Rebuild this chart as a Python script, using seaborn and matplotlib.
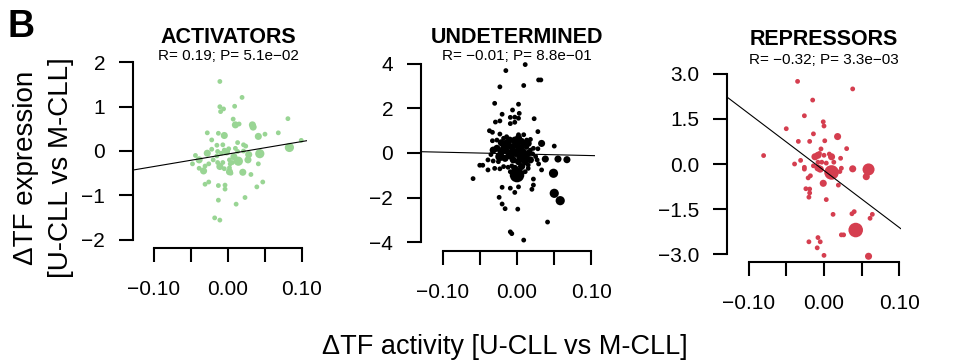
import numpy as np
import pandas as pd
import matplotlib
matplotlib.use('Agg')
import matplotlib.pyplot as plt
import matplotlib.transforms as mtransforms
import seaborn as sns

# values
# weight: 1 small dot ... 5 biggest dot
act_x = [-0.011, 0.019, -0.011, -0.006, -0.010, 0.009, 0.007, 0.015, 0.010, 0.033,
         0.034, 0.081, 0.068, 0.050, 0.041, -0.005, -0.013, -0.028, -0.022, -0.007,
         -0.015, 0.013, 0.021, 0.024, 0.099, 0.083, 0.043, 0.028, 0.027, 0.014,
         0.008, -0.002, -0.005, 0.001, -0.009, -0.014, -0.022, -0.028, -0.015, -0.020,
         -0.014, -0.011, -0.005, 0.002, 0.002, 0.004, 0.020, 0.031, 0.041, -0.039,
         -0.044, -0.048, -0.039, -0.033, -0.031, -0.026, -0.026, -0.031, -0.013, -0.004,
         -0.004, 0.039, 0.047, 0.023, 0.011, -0.013, -0.018, -0.011, 0.013, 0.021,
         0.002, -0.007, 0.003, 0.010, 0.006]
act_y = [1.57, 1.21, 1.00, 0.95, 0.89, 1.01, 0.72, 0.61, 0.59, 0.59,
         0.54, 0.73, 0.41, 0.38, 0.33, 0.35, 0.40, 0.41, 0.25, 0.14,
         0.13, 0.19, 0.14, 0.11, 0.24, 0.08, -0.06, -0.08, -0.20, -0.23,
         -0.13, -0.02, 0.02, 0.05, -0.05, -0.01, 0.04, -0.05, -0.11, -0.20,
         -0.26, -0.35, -0.40, -0.38, -0.47, -0.50, -0.48, -0.53, -0.29, -0.20,
         -0.10, -0.29, -0.39, -0.45, -0.34, -0.29, -0.70, -0.75, -0.78, -0.77,
         -0.86, -0.81, -0.70, -1.05, -1.20, -1.11, -1.51, -1.56, -0.01, 0.00,
         -0.20, -0.26, -0.29, 0.06, -0.26]
act_w = [1, 1, 1, 1, 1, 1, 1, 1, 2, 2,
         2, 1, 1, 1, 2, 2, 1, 1, 1, 1,
         1, 1, 1, 1, 1, 3, 3, 2, 2, 3,
         2, 2, 1, 1, 1, 1, 1, 2, 1, 1,
         1, 2, 1, 1, 2, 1, 2, 1, 1, 2,
         1, 1, 1, 2, 1, 1, 1, 1, 1, 1,
         1, 1, 1, 1, 1, 1, 1, 1, 1, 1,
         1, 1, 1, 1, 1]

und_x = [0.011, -0.015, 0.029, 0.032, -0.023, 0.009, -0.030, 0.002, -0.006, -0.020,
         0.003, -0.009, -0.003, 0.002, 0.023, -0.029, -0.023, -0.009, -0.003, -0.037,
         -0.033, -0.023, -0.014, 0.028, -0.033, -0.003, 0.002, 0.018, 0.033, 0.050,
         0.028, -0.032, -0.018, -0.012, -0.007, 0.000, 0.006, 0.013, 0.018, -0.023,
         -0.009, -0.002, 0.005, 0.012, 0.018, 0.025, 0.038, 0.055, 0.067, -0.039,
         -0.050, -0.046, -0.039, -0.032, -0.030, -0.059, -0.023, -0.018, -0.012, -0.007,
         0.008, 0.015, 0.029, 0.000, 0.011, 0.022, 0.022, 0.020, 0.033, 0.049,
         0.050, 0.058, -0.020, -0.009, -0.003, 0.002, -0.024, -0.020, -0.016, 0.001,
         0.041, -0.009, -0.007, 0.009,
         -0.027, -0.021, -0.014, -0.010, -0.003, 0.006, 0.011, 0.013, -0.021, -0.014,
         -0.005, 0.002, 0.008, 0.015, 0.021, -0.016, -0.005, 0.002, 0.011, 0.015,
         0.006, -0.003, -0.009, -0.025, 0.027, -0.035, -0.027, -0.018, 0.009, 0.002,
         0.015, 0.022]
und_y = [3.97, 3.70, 3.28, 3.28, 2.97, 3.03, 2.23, 2.19, 1.93, 1.74,
         1.78, 1.60, 1.61, 1.56, 1.54, 1.39, 1.44, 1.32, 1.38, 1.00,
         0.93, 0.85, 0.73, 0.96, 0.55, 0.58, 0.68, 0.61, 0.43, 0.31,
         0.19, 0.13, 0.21, 0.36, 0.28, 0.36, 0.25, 0.25, 0.13, -0.16,
         -0.09, -0.02, -0.16, -0.16, -0.31, -0.16, -0.27, -0.27, -0.30, -0.31,
         -0.55, -0.55, -0.76, -0.36, -0.69, -1.15, -0.71, -0.61, -0.64, -0.58,
         -0.58, -0.54, -0.49, -0.99, -0.84, -1.17, -1.44, -1.63, -0.76, -0.91,
         -1.81, -2.14, -1.54, -1.58, -1.77, -1.52, -1.99, -2.29, -2.50, -2.52,
         -3.10, -3.54, -3.62, -3.91,
         0.21, 0.46, 0.46, 0.58, 0.52, 0.52, 0.43, 0.58, 0.06, 0.10,
         0.10, 0.13, 0.06, -0.02, -0.04, -0.24, -0.31, -0.39, -0.39, -0.69,
         -0.61, -0.69, -0.84, -0.39, -0.31, -0.07, 0.58, 0.66, 0.82, 0.82,
         0.43, 0.21]
und_w = [1, 1, 1, 1, 1, 1, 1, 1, 1, 1,
         1, 1, 1, 1, 1, 1, 1, 1, 1, 1,
         1, 1, 1, 1, 1, 2, 2, 1, 2, 1,
         1, 2, 2, 2, 2, 2, 2, 1, 1, 3,
         3, 2, 3, 2, 2, 1, 2, 2, 2, 1,
         1, 1, 1, 1, 1, 1, 1, 1, 1, 1,
         1, 1, 1, 5, 1, 1, 1, 1, 1, 3,
         3, 3, 1, 1, 1, 1, 1, 1, 1, 1,
         1, 1, 1, 1,
         2, 2, 2, 2, 2, 2, 2, 1, 2, 2,
         2, 2, 2, 2, 1, 2, 2, 2, 2, 1,
         2, 2, 1, 1, 1, 1, 1, 1, 1, 1,
         2, 1]

rep_x = [-0.035, 0.038, -0.015, -0.026, -0.001, 0.000, -0.050, -0.014, 0.018, -0.034,
         -0.019, 0.001, 0.030, -0.004, -0.080, -0.012, -0.008, -0.006, 0.000, 0.007,
         0.010, 0.022, -0.031, -0.039, -0.026, -0.026, -0.014, -0.008, -0.003, 0.003,
         0.013, -0.008, -0.005, 0.010, 0.023, 0.021, 0.038, 0.059, 0.056, -0.018,
         -0.021, -0.001, 0.019, -0.024, -0.019, -0.019, -0.020, 0.003, 0.012, 0.037,
         0.040, 0.064, 0.061, 0.042, 0.023, 0.026, -0.008, -0.005, -0.020, -0.009,
         0.000, 0.059]
rep_y = [2.74, 2.49, 2.12, 1.60, 1.40, 1.26, 1.17, 1.00, 0.91, 0.75,
         0.75, 0.77, 0.51, 0.50, 0.28, 0.24, 0.29, 0.35, 0.29, 0.33,
         0.24, 0.19, 0.12, 0.00, -0.11, -0.17, -0.06, 0.06, 0.06, 0.03,
         0.06, -0.13, -0.17, -0.28, -0.14, -0.25, -0.16, -0.18, -0.42, -0.39,
         -0.46, -0.64, -0.70, -0.82, -0.83, -0.96, -1.10, -1.18, -1.67, -1.65,
         -1.58, -1.67, -1.80, -2.19, -2.35, -2.35, -2.44, -2.58, -2.58, -2.78,
         -3.03, -3.06]
rep_w = [1, 1, 1, 1, 1, 1, 1, 1, 2, 1,
         1, 1, 1, 1, 1, 2, 2, 1, 1, 1,
         2, 1, 1, 1, 1, 1, 1, 1, 1, 1,
         1, 2, 2, 5, 1, 1, 2, 4, 2, 1,
         1, 2, 1, 1, 1, 1, 1, 1, 1, 1,
         1, 1, 1, 5, 1, 1, 1, 1, 1, 1,
         1, 2]

titles = ['ACTIVATORS', 'UNDETERMINED', 'REPRESSORS']
stats = ['R= 0.19; P= 5.1e\u221202', 'R= \u22120.01; P= 8.8e\u221201', 'R= \u22120.32; P= 3.3e\u221203']
fit_slope = [2.82, -0.76, -18.96]
fit_icpt = [-0.068, -0.04, -0.216]
y_ticks = [[-2, -1, 0, 1, 2], [-4, -2, 0, 2, 4], [-3.0, -1.5, 0.0, 1.5, 3.0]]
y_ticklabels = [['\u22122', '\u22121', '0', '1', '2'],
                ['\u22124', '\u22122', '0', '2', '4'],
                ['\u22123.0', '\u22121.5', '0.0', '1.5', '3.0']]
x_ticks = [-0.10, -0.05, 0.0, 0.05, 0.10]
x_ticklabels = ['\u22120.10', '', '0.00', '', '0.10']
colors = ['#99D594', 'black', '#D53E4F']

sns.set_style('white')
plt.rcParams['font.family'] = ['Liberation Sans', 'DejaVu Sans']
plt.rcParams['text.color'] = 'black'
plt.rcParams['axes.labelcolor'] = 'black'
plt.rcParams['xtick.color'] = 'black'
plt.rcParams['ytick.color'] = 'black'

W, H = 963, 362
fig = plt.figure(figsize=(W / 100, H / 100), dpi=100)

# axes boxes in pixels: left, top, right, bottom
boxes = [(133, 54, 307, 248), (421, 55, 595, 251), (727, 66, 901, 262)]
xlims = [(-0.1284, 0.1068), (-0.1289, 0.1047), (-0.1285, 0.1020)]
ylims = [(-2.19, 2.19), (-4.40, 4.40), (-3.25, 3.25)]
title_base = [43, 43, 45]
stat_base = [60, 60, 64]
size_map = {1: 12, 2: 26, 3: 44, 4: 75, 5: 110}

data = [(act_x, act_y, act_w), (und_x, und_y, und_w), (rep_x, rep_y, rep_w)]

for i in range(3):
    l, t, r, b = boxes[i]
    ax = fig.add_axes([l / W, 1 - b / H, (r - l) / W, (b - t) / H])
    df = pd.DataFrame({'x': data[i][0], 'y': data[i][1], 'w': data[i][2]})
    sns.scatterplot(data=df, x='x', y='y', size='w', sizes=size_map,
                    color=colors[i], edgecolor='none', linewidth=0,
                    legend=False, ax=ax, clip_on=False)
    ax.set_xlim(*xlims[i])
    ax.set_ylim(*ylims[i])
    xs = np.array(xlims[i])
    ax.plot(xs, fit_icpt[i] + fit_slope[i] * xs, color='black', lw=0.8)

    ax.set_xticks(x_ticks)
    ax.set_xticklabels(x_ticklabels)
    ax.set_yticks(y_ticks[i])
    ax.set_yticklabels(y_ticklabels[i])
    ax.set_xlabel('')
    ax.set_ylabel('')
    for s in ['top', 'right']:
        ax.spines[s].set_visible(False)
    for s in ['left', 'bottom']:
        ax.spines[s].set_linewidth(1.5)
        ax.spines[s].set_color('black')
    ax.spines['left'].set_bounds(y_ticks[i][0], y_ticks[i][-1])
    ax.spines['bottom'].set_bounds(-0.10, 0.10)
    ax.tick_params(direction='out', length=10, width=1.5, labelsize=15,
                   color='black', labelcolor='black', bottom=True, left=True)
    ax.tick_params(axis='x', pad=13)
    ax.tick_params(axis='y', pad=10)
    ax.patch.set_alpha(0)

    tr = mtransforms.blended_transform_factory(ax.transData, fig.transFigure)
    ax.text(0, 1 - title_base[i] / H, titles[i], transform=tr, ha='center',
            va='baseline', fontsize=15.5, fontweight='bold')
    ax.text(0, 1 - stat_base[i] / H, stats[i], transform=tr, ha='center',
            va='baseline', fontsize=11)

fig.text(8 / W, 1 - 37 / H, 'B', fontsize=27, fontweight='bold', va='baseline')
fig.text(33 / W, 1 - 168 / H, '\u0394TF expression', rotation=90,
         rotation_mode='anchor', ha='center', va='baseline', fontsize=20)
fig.text(68 / W, 1 - 168 / H, '[U-CLL vs M-CLL]', rotation=90,
         rotation_mode='anchor', ha='center', va='baseline', fontsize=20)
fig.text(505 / W, 1 - 354 / H, '\u0394TF activity [U-CLL vs M-CLL]',
         ha='center', va='baseline', fontsize=19.5)

fig.savefig('out.png', dpi=100)
